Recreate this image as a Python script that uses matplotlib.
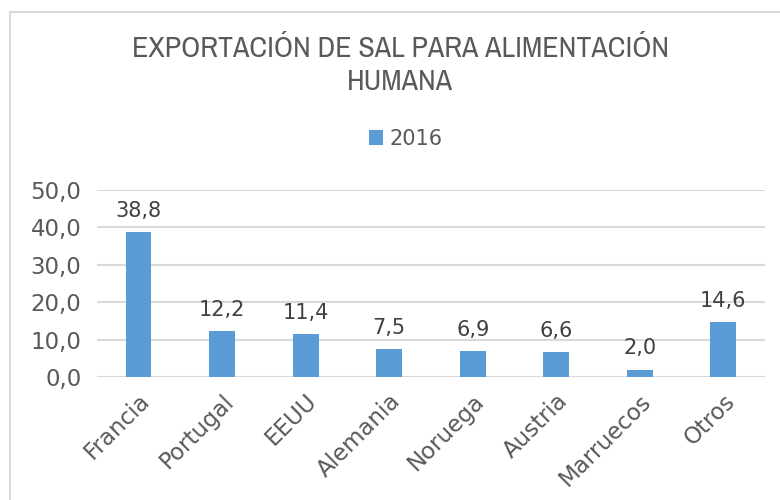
import matplotlib.pyplot as plt
from matplotlib.patches import Rectangle

# Datos de exportacion
paises = ['Francia', 'Portugal', 'EEUU', 'Alemania', 'Noruega', 'Austria', 'Marruecos', 'Otros']
valores = [38.8, 12.2, 11.4, 7.5, 6.9, 6.6, 2.0, 14.6]
serie = '2016'
ticks_y = [0, 10, 20, 30, 40, 50]

azul = '#5B9BD5'
gris = '#595959'

fig = plt.figure(figsize=(7.8, 5), dpi=100)
ax = fig.add_axes([0.124, 0.246, 0.857, 0.374])

barras = ax.bar(range(len(paises)), valores, width=0.31, color=azul, label=serie, zorder=3)
for i, v in enumerate(valores):
    ax.annotate('{:.1f}'.format(v).replace('.', ','), (i, v), xytext=(0, 8),
                textcoords='offset points', ha='center', va='bottom',
                fontsize=15, color='#404040')

ax.set_xlim(-0.5, len(paises) - 0.5)
ax.set_ylim(0, 50)
ax.set_yticks(ticks_y)
ax.set_yticklabels(['{:.1f}'.format(t).replace('.', ',') for t in ticks_y], fontsize=16.5, color=gris)
ax.set_xticks(range(len(paises)))
ax.set_xticklabels(paises, rotation=45, ha='right', rotation_mode='anchor', fontsize=16.5, color=gris)
ax.tick_params(axis='y', length=0, pad=11)
ax.tick_params(axis='x', length=0, pad=9)
ax.yaxis.grid(True, color='#D9D9D9', linewidth=1.5, zorder=0)
for s in ax.spines.values():
    s.set_visible(False)

fig.text(0.513, 0.87, 'EXPORTACIÓN DE SAL PARA ALIMENTACIÓN\nHUMANA', ha='center', va='center',
         fontsize=21.5, color=gris, linespacing=1.25,
         family=['Archivo Narrow', 'DejaVu Sans'])
fig.legend(handles=[barras], loc='center', bbox_to_anchor=(0.52, 0.722), frameon=False,
           fontsize=15, handlelength=0.7, handleheight=0.7, handletextpad=0.3,
           labelcolor=gris)

fig.patches.append(Rectangle((10 / 780, -0.1), 1.2, 0.1 + 488 / 500, transform=fig.transFigure,
                             fill=False, edgecolor='#D9D9D9', linewidth=1.5))

fig.savefig('out.png', dpi=100)
